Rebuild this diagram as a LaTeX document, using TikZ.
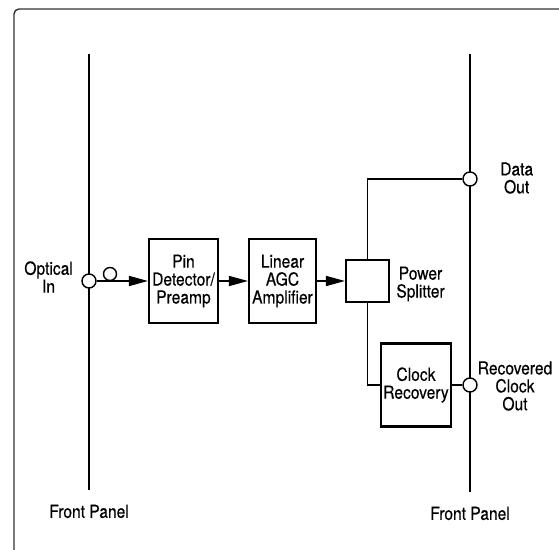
\documentclass[tikz,border=0pt]{standalone}
\usepackage{fontspec}
\setmainfont{TeX Gyre Heros}[FakeStretch=0.87, FakeBold=0.4]
\usetikzlibrary{arrows.meta}

\begin{document}
\begin{tikzpicture}[x=0.02cm, y=-0.02cm,
    every node/.style={font=\fontsize{10.2}{10.2}\selectfont, align=center},
    block/.style={draw, line width=1.2pt, inner sep=0pt},
    port/.style={draw, circle, fill=white, line width=0.8pt, minimum size=0.28cm, inner sep=0pt},
    panel/.style={line width=1.6pt},
    feed/.style={line width=0.9pt, -{Triangle[length=0.38cm, width=0.2cm]}},
    wire/.style={line width=0.6pt}]
    \useasboundingbox (0,0) rectangle (559,550);
    \draw[black!80, line width=0.8pt, rounded corners=0.1cm] (14,570) -- (14,9) -- (580,9);

    % Front panels
    \draw[panel] (89,54) -- (89,490) node[below=0.15cm] (leftfp) {Front Panel};
    \draw[panel] (470,54) -- (470,492) node[below=0.15cm] (rightfp) {Front Panel};

    % Ports
    \node[port] (optin) at (89,281) {};
    \node[port] (dataout) at (470,179) {};
    \node[port] (clkout) at (470,385) {};
    \node[port, minimum size=0.26cm] (loop) at (110,274) {};

    % Blocks
    \node[block, minimum width=1.38cm, minimum height=1.68cm] (pin) at (183.5,281) {Pin\\Detector/\\Preamp};
    \node[block, minimum width=1.34cm, minimum height=1.68cm] (agc) at (282.5,281) {Linear\\AGC\\Amplifier};
    \node[block, minimum width=0.86cm, minimum height=0.84cm] (splitter) at (367.5,281) {};
    \node[block, minimum width=1.4cm, minimum height=1.66cm] (clock) at (416,385) {Clock\\Recovery};

    % Labels
    \node[anchor=east] (optlabel) at (79,277) {Optical\\In};
    \node (splitlabel) at (420.5,284) {Power\\Splitter};
    \node[anchor=west] (datalabel) at (494,178) {Data\\Out};
    \node (clklabel) at (515,386) {Recovered\\Clock\\Out};

    % Signal path
    \draw[feed] (optin) -- (pin);
    \draw[feed] (pin) -- (agc);
    \draw[feed] (agc) -- (splitter);
    \draw[wire] (splitter.north) |- (dataout);
    \draw[wire] (splitter.south) |- (clock.west);
    \draw[wire] (clock) -- (clkout);
\end{tikzpicture}
\end{document}
